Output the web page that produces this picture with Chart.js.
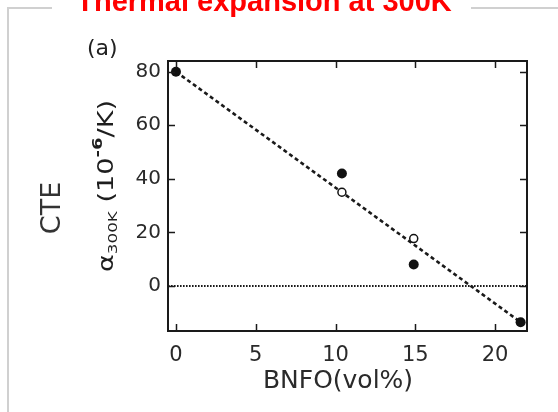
<!DOCTYPE html>
<html><head><meta charset="utf-8">
<script src="https://cdn.jsdelivr.net/npm/chart.js@4.4.1/dist/chart.umd.min.js"></script>
<style>html,body{margin:0;padding:0;background:#fff;overflow:hidden}canvas{display:block}</style>
</head><body>
<canvas id="c" width="558" height="412"></canvas>
<script>
// ---- data ----
const xTicks = [0, 5, 10, 15, 20];
const yTicks = [0, 20, 40, 60, 80];
const filledX = [0, 10.4, 14.9, 21.6];
const filledY = [80, 42, 8, -13.5];
const openX = [10.4, 14.9];
const openY = [35, 17.7];
const fitX = [0, 21.6];
const fitY = [80, -13.5];
const zeroX = [-0.5, 22];
const zeroY = [0, 0];
const titleText = 'Thermal expansion at 300K';
const xTitle = 'BNFO(vol%)';
const panelLabel = '(a)';
const leftTitle = 'CTE';
const yTitleParts = ['α', '300K', ' (10', '-6', '/K)'];

const pts = (xs, ys) => xs.map((x, i) => ({x, y: ys[i]}));

const deco = {
  id: 'deco',
  beforeDraw(chart) {
    const ctx = chart.ctx;
    ctx.save();
    ctx.fillStyle = '#fff';
    ctx.fillRect(0, 0, chart.width, chart.height);
    // fieldset-like frame
    ctx.strokeStyle = '#d0d0d0';
    ctx.lineWidth = 2;
    ctx.beginPath();
    ctx.moveTo(8, 450); ctx.lineTo(8, 8); ctx.lineTo(52, 8);
    ctx.moveTo(471, 8); ctx.lineTo(600, 8);
    ctx.stroke();
    // title
    ctx.fillStyle = '#ff0000';
    ctx.font = 'bold 29px "Liberation Sans", Arial, sans-serif';
    ctx.textAlign = 'center';
    ctx.textBaseline = 'alphabetic';
    ctx.fillText(titleText, 264, 11);
    // panel label
    ctx.fillStyle = '#222';
    ctx.font = '22px "DejaVu Sans"';
    ctx.textAlign = 'left';
    ctx.fillText(panelLabel, 87, 55);
    // CTE
    ctx.save();
    ctx.translate(60, 208);
    ctx.rotate(-Math.PI / 2);
    ctx.textAlign = 'center';
    ctx.font = '27px "DejaVu Sans"';
    ctx.fillStyle = '#333';
    ctx.fillText(leftTitle, 0, 0);
    ctx.restore();
    // x title
    ctx.fillStyle = '#2a2a2a';
    ctx.font = '25px "DejaVu Sans"';
    ctx.textAlign = 'center';
    ctx.fillText(xTitle, 338, 388);
    // rotated alpha label
    const fonts = ['21px "DejaVu Sans"', '13px "DejaVu Sans"', '21px "DejaVu Sans"', 'bold 14px "DejaVu Sans"', '21px "DejaVu Sans"'];
    const shifts = [0, 4, 0, -11, 0];
    let total = 0;
    const widths = yTitleParts.map((t, i) => { ctx.font = fonts[i]; const w = ctx.measureText(t).width; total += w; return w; });
    ctx.save();
    ctx.translate(113, 272);
    ctx.rotate(-Math.PI / 2);
    ctx.scale(172 / total, 1);
    ctx.fillStyle = '#1e1e1e';
    ctx.textAlign = 'left';
    let x = 0;
    yTitleParts.forEach((t, i) => { ctx.font = fonts[i]; ctx.fillText(t, x, shifts[i]); x += widths[i]; });
    ctx.restore();
    ctx.restore();
  },
  afterDraw(chart) {
    const ctx = chart.ctx, a = chart.chartArea;
    const xs = chart.scales.x, ys = chart.scales.y;
    ctx.save();
    ctx.strokeStyle = '#1a1a1a';
    ctx.lineWidth = 2;
    ctx.strokeRect(a.left, a.top, a.right - a.left, a.bottom - a.top);
    ctx.lineWidth = 1.5;
    ctx.beginPath();
    const L = 7;
    xTicks.forEach(v => {
      const px = Math.round(xs.getPixelForValue(v)) + 0.5;
      ctx.moveTo(px, a.bottom); ctx.lineTo(px, a.bottom - L);
      ctx.moveTo(px, a.top); ctx.lineTo(px, a.top + L);
    });
    yTicks.forEach(v => {
      const py = Math.round(ys.getPixelForValue(v)) + 0.5;
      ctx.moveTo(a.left, py); ctx.lineTo(a.left + L, py);
      ctx.moveTo(a.right, py); ctx.lineTo(a.right - L, py);
    });
    ctx.stroke();
    ctx.restore();
  }
};

new Chart(document.getElementById('c'), {
  type: 'scatter',
  data: {
    datasets: [
      { data: pts(filledX, filledY), pointRadius: 5, pointBackgroundColor: '#111', pointBorderColor: '#111', pointBorderWidth: 0, showLine: false },
      { data: pts(openX, openY), pointRadius: 4, pointBackgroundColor: '#fff', pointBorderColor: '#111', pointBorderWidth: 1.5, showLine: false },
      { data: pts(fitX, fitY), showLine: true, borderColor: '#1a1a1a', borderWidth: 2.6, borderDash: [4, 3], pointRadius: 0 },
      { data: pts(zeroX, zeroY), showLine: true, borderColor: '#1a1a1a', borderWidth: 1.8, borderDash: [1.6, 1.4], pointRadius: 0 }
    ]
  },
  options: {
    responsive: false,
    animation: false,
    devicePixelRatio: 1,
    layout: { padding: { left: 0, right: 31, top: 61, bottom: 0 } },
    plugins: { legend: { display: false }, tooltip: { enabled: false }, title: { display: false } },
    scales: {
      x: {
        type: 'linear', min: -0.5, max: 22,
        grid: { display: false, drawTicks: false }, border: { display: false },
        afterBuildTicks: s => { s.ticks = xTicks.map(v => ({value: v})); },
        afterFit: s => { s.height = 81; },
        ticks: { padding: 12, color: '#2a2a2a', font: { family: 'DejaVu Sans', size: 21 } }
      },
      y: {
        type: 'linear', min: -16.8, max: 84,
        grid: { display: false, drawTicks: false }, border: { display: false },
        afterBuildTicks: s => { s.ticks = yTicks.map(v => ({value: v})); },
        afterFit: s => { s.width = 168; },
        ticks: { padding: 7, color: '#2a2a2a', font: { family: 'DejaVu Sans', size: 20 } }
      }
    }
  },
  plugins: [deco]
});
</script>
</body></html>
